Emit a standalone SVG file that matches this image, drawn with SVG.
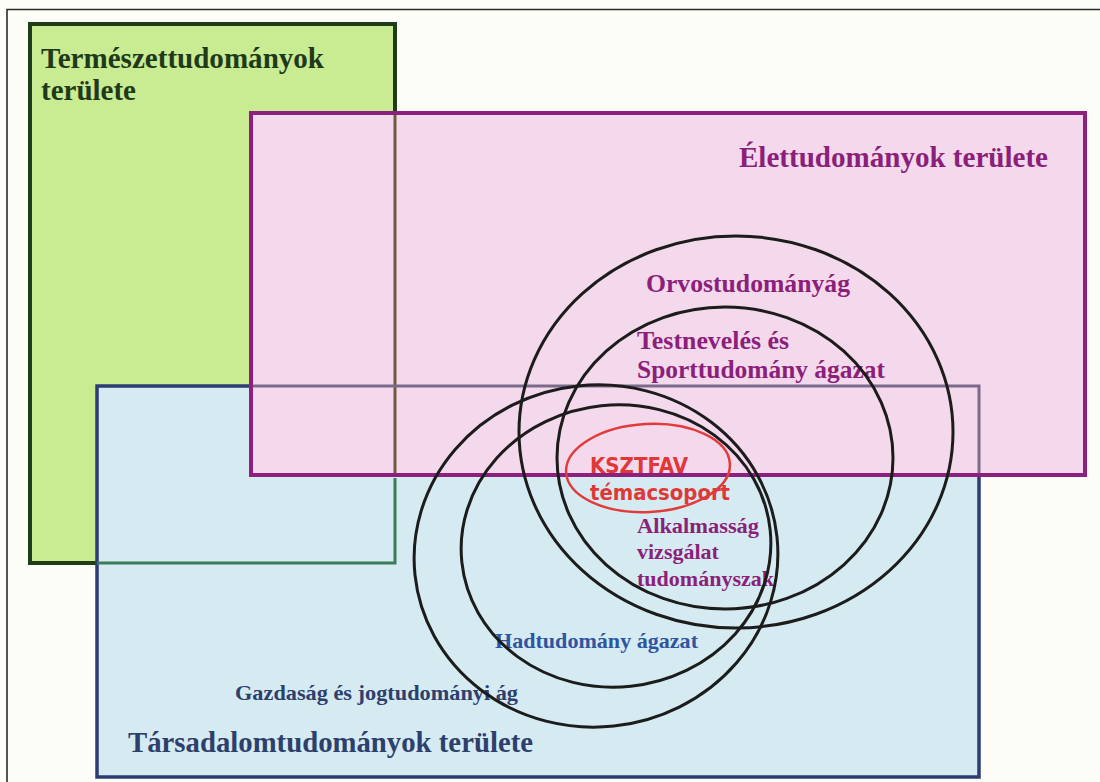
<svg xmlns="http://www.w3.org/2000/svg" width="1100" height="782" viewBox="0 0 1100 782">
<style>
.serif{font-family:"Liberation Serif","Times New Roman",serif;font-weight:bold}
.ring{fill:none;stroke:#1c1c1c;stroke-width:3}
.purple{fill:#8b1f7a}
.red{font-family:"DejaVu Sans","Noto Sans",sans-serif;font-weight:bold;font-size:21px;fill:#e03838}
</style>
<rect x="0" y="0" width="1100" height="782" fill="#fdfdf8"/>
<path d="M7,782 V9.5 H1100" fill="none" stroke="#2a2a2a" stroke-width="1.6"/>

<g id="area-natural">
<rect x="30" y="24" width="365" height="539" fill="#c9eb92" stroke="#203d1a" stroke-width="4"/>
</g>
<g id="area-social">
<rect x="97" y="386" width="882" height="391" fill="#d5eaf1" stroke="#2b3d72" stroke-width="3.5"/>
</g>
<g id="area-life">
<rect x="251" y="113" width="834" height="362" fill="#f4d8eb" stroke="#8e1f7e" stroke-width="4"/>
</g>
<g id="show-through">
<path d="M97,563 H395 V478" fill="none" stroke="#3b7d5a" stroke-width="3"/>
<path d="M395,115 V473" fill="none" stroke="#6e5a40" stroke-width="3"/>
<path d="M253,386 H979 V473" fill="none" stroke="#7b6a8c" stroke-width="3"/>
</g>

<g id="labels-areas" class="serif">
<text x="41" y="68" font-size="29" fill="#1f3a1a" textLength="283" lengthAdjust="spacingAndGlyphs">Természettudományok</text>
<text x="41" y="100" font-size="29" fill="#1f3a1a">területe</text>
<text x="739" y="167" font-size="29" class="purple" textLength="309" lengthAdjust="spacingAndGlyphs">Élettudományok területe</text>
<text x="128" y="752" font-size="29" fill="#2d3f6c" textLength="405" lengthAdjust="spacingAndGlyphs">Társadalomtudományok területe</text>
</g>

<g id="node-orvos">
<text class="serif purple" x="646" y="292" font-size="25.5" textLength="204" lengthAdjust="spacingAndGlyphs">Orvostudományág</text>
</g>
<g id="node-sport">
<text class="serif purple" x="637" y="349" font-size="25.5" textLength="152" lengthAdjust="spacingAndGlyphs">Testnevelés és</text>
<text class="serif purple" x="637" y="378" font-size="25.5" textLength="248" lengthAdjust="spacingAndGlyphs">Sporttudomány ágazat</text>
</g>
<g id="node-alkalmassag">
<text class="serif purple" x="637" y="533" font-size="22" textLength="122" lengthAdjust="spacingAndGlyphs">Alkalmasság</text>
<text class="serif purple" x="637" y="559" font-size="22">vizsgálat</text>
<text class="serif purple" x="637" y="586" font-size="22" textLength="137" lengthAdjust="spacingAndGlyphs">tudományszak</text>
</g>
<g id="node-had">
<text class="serif" x="495" y="648" font-size="22" fill="#2f55a0" textLength="203" lengthAdjust="spacingAndGlyphs">Hadtudomány ágazat</text>
</g>
<g id="node-gazdasag">
<text class="serif" x="235" y="700" font-size="22" fill="#2d3f6c" textLength="283" lengthAdjust="spacingAndGlyphs">Gazdaság és jogtudományi ág</text>
</g>

<g id="circles">
<ellipse id="circle-orvos" class="ring" cx="736" cy="432" rx="217" ry="196"/>
<ellipse id="circle-sport" class="ring" cx="725" cy="458" rx="168" ry="151"/>
<ellipse id="circle-had-outer" class="ring" cx="596" cy="556" rx="182" ry="171" transform="rotate(-6 596 556)"/>
<ellipse id="circle-had-inner" class="ring" cx="616" cy="546" rx="155" ry="141" transform="rotate(-6 616 546)"/>
</g>

<g id="node-kszt">
<ellipse cx="648" cy="468" rx="82" ry="44" fill="none" stroke="#e23b3b" stroke-width="2.5" transform="rotate(-3 648 468)"/>
<text class="red" x="590" y="473" textLength="98" lengthAdjust="spacingAndGlyphs">KSZTFAV</text>
<text class="red" x="590" y="500" textLength="140" lengthAdjust="spacingAndGlyphs">témacsoport</text>
</g>
<g id="connectors"/>
</svg>
